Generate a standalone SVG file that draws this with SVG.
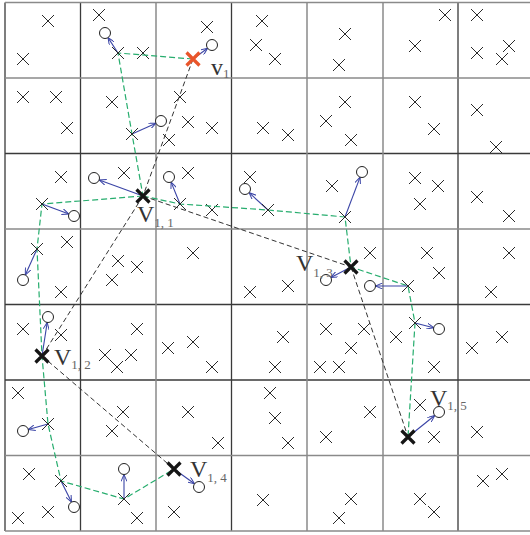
<svg xmlns="http://www.w3.org/2000/svg" xmlns:xlink="http://www.w3.org/1999/xlink" width="530" height="535" viewBox="0 0 530 535">
<style>
.gd{stroke:#3a3a3a;stroke-width:1.3;fill:none}
.gg{stroke:#8a8a8a;stroke-width:1.5;fill:none}
.tour{stroke:#27ad6e;stroke-width:1.2;stroke-dasharray:6 3;fill:none}
.path{stroke:#333;stroke-width:1;stroke-dasharray:5 3;fill:none}
.arr{stroke:#3a44a6;stroke-width:1.1;fill:none;marker-end:url(#ah)}
.c{fill:#fff;stroke:#222;stroke-width:1}
.lbl{font-family:"Liberation Serif","Times New Roman",serif;fill:#333}
.big{font-size:24px}
.sub{font-size:13px;fill:#666}
</style>
<defs>
<path id="x" d="M-6,-6L6,6M6,-6L-6,6" stroke="#2a2a2a" stroke-width="1" fill="none"/>
<path id="bx" d="M-6.5,-6.5L6.5,6.5M6.5,-6.5L-6.5,6.5" stroke="#151515" stroke-width="3.2" fill="none"/>
<path id="rx" d="M-6.5,-6.5L6.5,6.5M6.5,-6.5L-6.5,6.5" stroke="#e9552a" stroke-width="3.2" fill="none"/>
<marker id="ah" viewBox="0 0 7 6" refX="7" refY="3" markerWidth="7" markerHeight="6" markerUnits="userSpaceOnUse" orient="auto">
<path d="M0,0L7,3L0,6" fill="none" stroke="#3a44a6" stroke-width="1"/>
</marker>
</defs>
<rect width="530" height="535" fill="#fff"/>
<g id="grid">
<path class="gd" d="M5,2.5V531M80.5,2.5V531M231.5,2.5V531M458,2.5V531M5,153.5H530M5,304.5H530M5,380H530"/>
<path class="gg" d="M156,2.5V531M307,2.5V531M383,2.5V531M5,2.5H530M5,78H530M5,229H530M5,455.5H530M5,531H530"/>
</g>
<g id="points">
<use href="#x" x="48" y="21"/><use href="#x" x="23" y="59"/><use href="#x" x="99" y="15"/><use href="#x" x="143" y="53"/><use href="#x" x="207" y="27"/><use href="#x" x="262" y="21"/><use href="#x" x="256" y="45"/><use href="#x" x="275" y="59"/><use href="#x" x="345" y="34"/><use href="#x" x="339" y="65"/><use href="#x" x="445" y="15"/><use href="#x" x="415" y="46"/><use href="#x" x="477" y="15"/><use href="#x" x="477" y="53"/><use href="#x" x="509" y="46"/><use href="#x" x="502" y="59"/>
<use href="#x" x="23" y="97"/><use href="#x" x="56" y="97"/><use href="#x" x="67" y="128"/><use href="#x" x="112" y="102"/><use href="#x" x="180" y="97"/><use href="#x" x="188" y="122"/><use href="#x" x="212" y="128"/><use href="#x" x="169" y="140"/><use href="#x" x="263" y="128"/><use href="#x" x="288" y="135"/><use href="#x" x="345" y="102"/><use href="#x" x="326" y="121"/><use href="#x" x="351" y="140"/><use href="#x" x="415" y="102"/><use href="#x" x="434" y="129"/><use href="#x" x="477" y="110"/><use href="#x" x="496" y="147"/>
<use href="#x" x="61" y="177"/><use href="#x" x="124" y="173"/><use href="#x" x="188" y="173"/><use href="#x" x="250" y="177"/><use href="#x" x="212" y="210"/><use href="#x" x="332" y="186"/><use href="#x" x="415" y="178"/><use href="#x" x="438" y="186"/><use href="#x" x="420" y="204"/><use href="#x" x="477" y="197"/><use href="#x" x="509" y="216"/>
<use href="#x" x="67" y="242"/><use href="#x" x="61" y="292"/><use href="#x" x="118" y="261"/><use href="#x" x="137" y="267"/><use href="#x" x="112" y="280"/><use href="#x" x="193" y="253"/><use href="#x" x="250" y="292"/><use href="#x" x="370" y="253"/><use href="#x" x="288" y="286"/><use href="#x" x="427" y="253"/><use href="#x" x="439" y="273"/><use href="#x" x="491" y="292"/><use href="#x" x="509" y="253"/>
<use href="#x" x="23" y="329"/><use href="#x" x="61" y="335"/><use href="#x" x="137" y="329"/><use href="#x" x="168" y="348"/><use href="#x" x="193" y="342"/><use href="#x" x="105" y="355"/><use href="#x" x="131" y="355"/><use href="#x" x="117" y="367"/><use href="#x" x="212" y="367"/><use href="#x" x="283" y="337"/><use href="#x" x="326" y="329"/><use href="#x" x="351" y="348"/><use href="#x" x="364" y="329"/><use href="#x" x="396" y="337"/><use href="#x" x="472" y="348"/><use href="#x" x="502" y="337"/><use href="#x" x="275" y="367"/><use href="#x" x="320" y="367"/><use href="#x" x="339" y="367"/><use href="#x" x="434" y="367"/>
<use href="#x" x="18" y="393"/><use href="#x" x="123" y="412"/><use href="#x" x="112" y="431"/><use href="#x" x="188" y="412"/><use href="#x" x="218" y="443"/><use href="#x" x="270" y="393"/><use href="#x" x="275" y="418"/><use href="#x" x="288" y="443"/><use href="#x" x="370" y="412"/><use href="#x" x="326" y="437"/><use href="#x" x="420" y="405"/><use href="#x" x="434" y="437"/><use href="#x" x="477" y="432"/>
<use href="#x" x="29" y="474"/><use href="#x" x="18" y="518"/><use href="#x" x="48" y="512"/><use href="#x" x="137" y="518"/><use href="#x" x="174" y="512"/><use href="#x" x="263" y="500"/><use href="#x" x="351" y="499"/><use href="#x" x="339" y="518"/><use href="#x" x="420" y="499"/><use href="#x" x="434" y="512"/><use href="#x" x="483" y="481"/><use href="#x" x="502" y="474"/>
</g>
<g id="connectors">
<polyline class="tour" points="193,59 118,53 132,134 143,196"/>
<polyline class="tour" points="143,196 42,204 37,249 42,356 48,424 61,481 124,499 174,469"/>
<polyline class="tour" points="143,196 180,204 268,210 345,217 351,267 408,286 415,323 408,437"/>
<line class="path" x1="193" y1="59" x2="143" y2="196"/>
<line class="path" x1="143" y1="196" x2="42" y2="356"/>
<line class="path" x1="42" y1="356" x2="174" y2="469"/>
<line class="path" x1="143" y1="196" x2="351" y2="267"/>
<line class="path" x1="351" y1="267" x2="408" y2="437"/>
<line class="arr" x1="118" y1="53" x2="108" y2="37.6"/>
<line class="arr" x1="193" y1="59" x2="207.6" y2="48.3"/>
<line class="arr" x1="132" y1="134" x2="156" y2="123.2"/>
<line class="arr" x1="143" y1="196" x2="99.2" y2="179.9"/>
<line class="arr" x1="180" y1="204" x2="171.1" y2="182.1"/>
<line class="arr" x1="268" y1="210" x2="249.1" y2="192.7"/>
<line class="arr" x1="42" y1="204" x2="68.9" y2="214.1"/>
<line class="arr" x1="37" y1="249" x2="25.3" y2="275"/>
<line class="arr" x1="345" y1="217" x2="360.1" y2="177.1"/>
<line class="arr" x1="351" y1="267" x2="330.9" y2="277.5"/>
<line class="arr" x1="408" y1="286" x2="375.5" y2="286"/>
<line class="arr" x1="415" y1="323" x2="433.7" y2="327.7"/>
<line class="arr" x1="42" y1="356" x2="47.2" y2="322.4"/>
<line class="arr" x1="48" y1="424" x2="28.3" y2="429.5"/>
<line class="arr" x1="61" y1="481" x2="71.5" y2="502.1"/>
<line class="arr" x1="124" y1="499" x2="124" y2="474.5"/>
<line class="arr" x1="174" y1="469" x2="194.5" y2="483.8"/>
<line class="arr" x1="408" y1="437" x2="434.7" y2="415.5"/>
</g>
<g id="w1"><use href="#x" x="118" y="53"/></g>
<g id="w2"><use href="#x" x="132" y="134"/></g>
<g id="w3"><use href="#x" x="42" y="204"/></g>
<g id="w4"><use href="#x" x="37" y="249"/></g>
<g id="w5"><use href="#x" x="48" y="424"/></g>
<g id="w6"><use href="#x" x="61" y="481"/></g>
<g id="w7"><use href="#x" x="124" y="499"/></g>
<g id="w8"><use href="#x" x="180" y="204"/></g>
<g id="w9"><use href="#x" x="268" y="210"/></g>
<g id="w10"><use href="#x" x="345" y="217"/></g>
<g id="w11"><use href="#x" x="408" y="286"/></g>
<g id="w12"><use href="#x" x="415" y="323"/></g>
<g id="c1"><circle class="c" cx="105" cy="33" r="5.5"/></g>
<g id="c2"><circle class="c" cx="212" cy="45" r="5.5"/></g>
<g id="c3"><circle class="c" cx="161" cy="121" r="5.5"/></g>
<g id="c4"><circle class="c" cx="94" cy="178" r="5.5"/></g>
<g id="c5"><circle class="c" cx="169" cy="177" r="5.5"/></g>
<g id="c6"><circle class="c" cx="245" cy="189" r="5.5"/></g>
<g id="c7"><circle class="c" cx="74" cy="216" r="5.5"/></g>
<g id="c8"><circle class="c" cx="23" cy="280" r="5.5"/></g>
<g id="c9"><circle class="c" cx="362" cy="172" r="5.5"/></g>
<g id="c10"><circle class="c" cx="326" cy="280" r="5.5"/></g>
<g id="c11"><circle class="c" cx="370" cy="286" r="5.5"/></g>
<g id="c12"><circle class="c" cx="439" cy="329" r="5.5"/></g>
<g id="c13"><circle class="c" cx="48" cy="317" r="5.5"/></g>
<g id="c14"><circle class="c" cx="23" cy="431" r="5.5"/></g>
<g id="c15"><circle class="c" cx="74" cy="507" r="5.5"/></g>
<g id="c16"><circle class="c" cx="124" cy="469" r="5.5"/></g>
<g id="c17"><circle class="c" cx="199" cy="487" r="5.5"/></g>
<g id="c18"><circle class="c" cx="439" cy="412" r="5.5"/></g>
<g id="v1"><use href="#rx" x="193" y="59"/><text class="lbl" x="211" y="75"><tspan class="big" font-size="22">v</tspan><tspan class="sub" dy="3">1</tspan></text></g>
<g id="V11"><use href="#bx" x="143" y="196"/><text class="lbl" x="137" y="222"><tspan class="big">V</tspan><tspan class="sub" dy="5">1, 1</tspan></text></g>
<g id="V12"><use href="#bx" x="42" y="356"/><text class="lbl" x="54" y="365"><tspan class="big">V</tspan><tspan class="sub" dy="4">1, 2</tspan></text></g>
<g id="V13"><use href="#bx" x="351" y="267"/><text class="lbl" x="296" y="271"><tspan class="big">V</tspan><tspan class="sub" dy="6">1, 3</tspan></text></g>
<g id="V14"><use href="#bx" x="174" y="469"/><text class="lbl" x="190" y="477"><tspan class="big">V</tspan><tspan class="sub" dy="5">1, 4</tspan></text></g>
<g id="V15"><use href="#bx" x="408" y="437"/><text class="lbl" x="430" y="406"><tspan class="big">V</tspan><tspan class="sub" dy="4">1, 5</tspan></text></g>
</svg>
